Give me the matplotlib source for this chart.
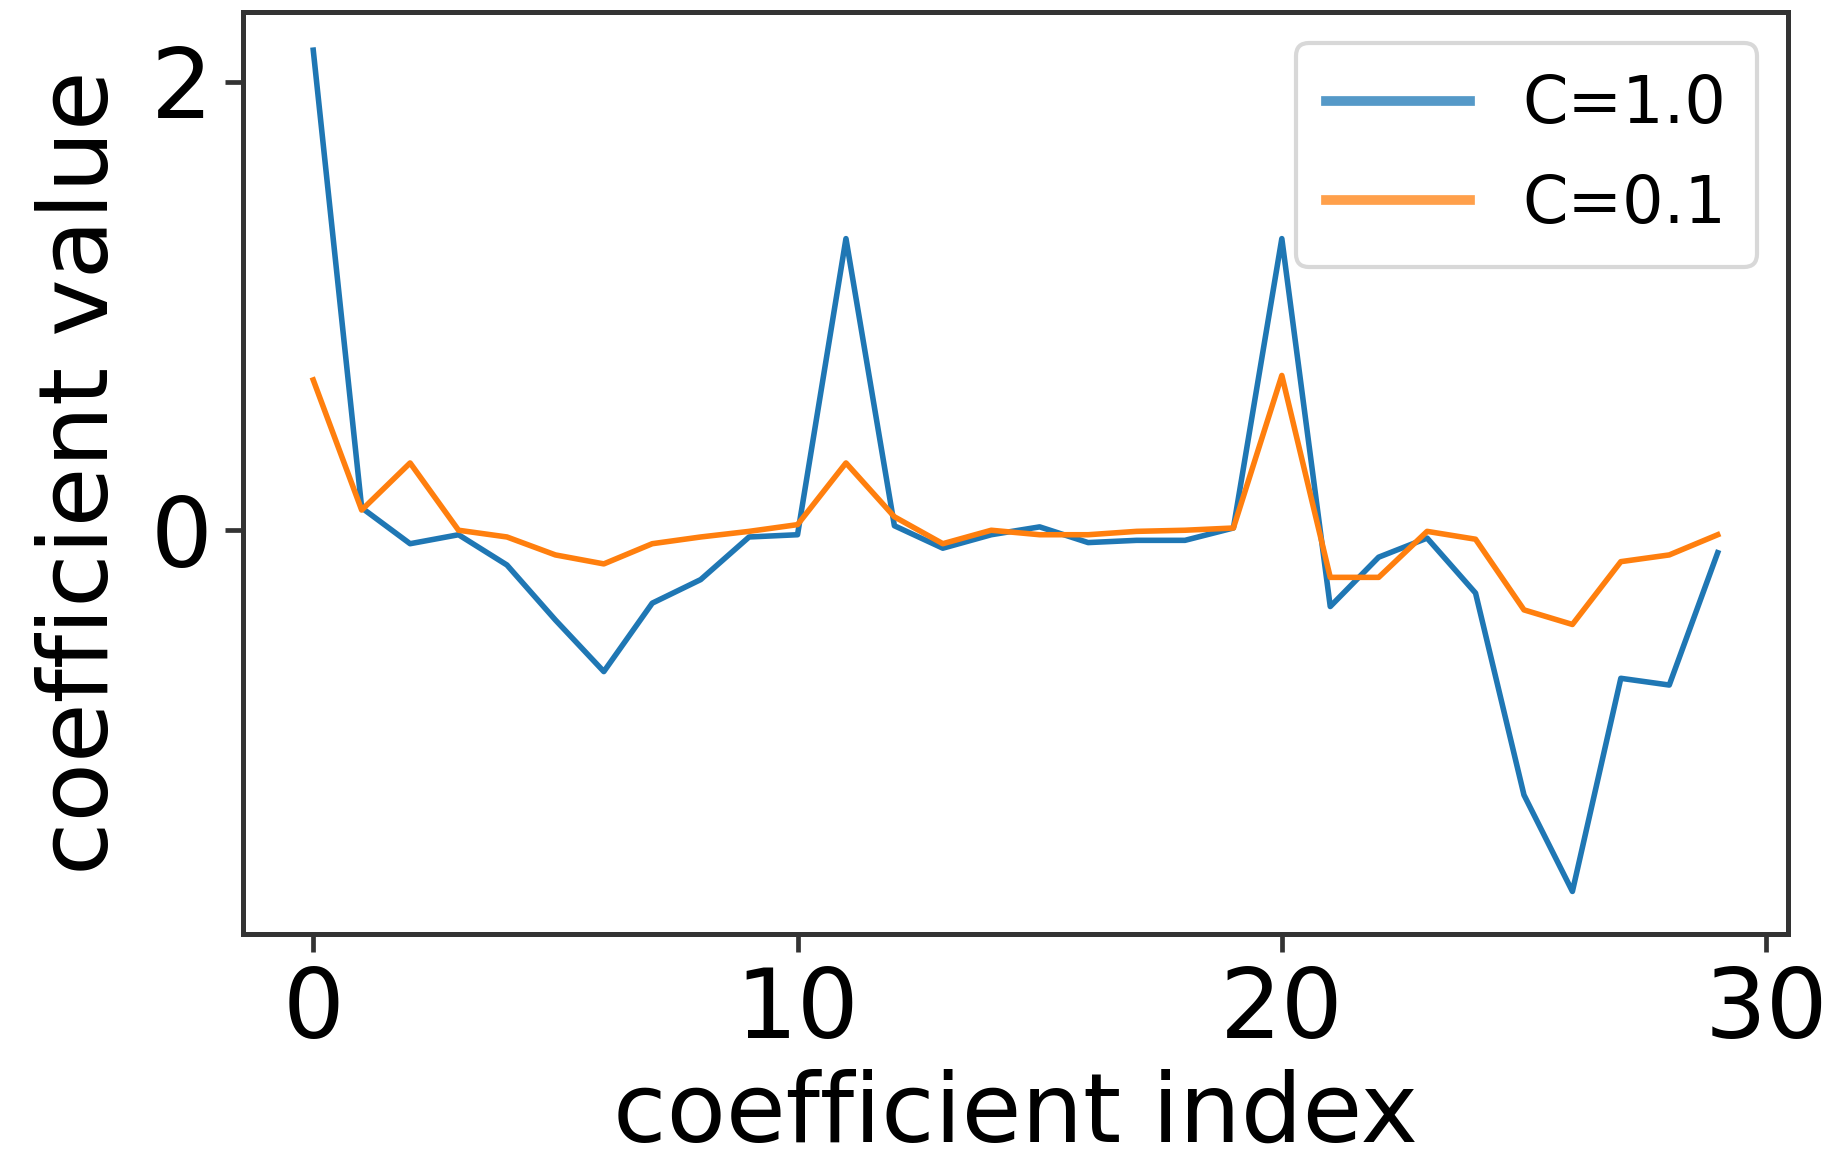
import matplotlib
matplotlib.use("Agg")
import matplotlib.pyplot as plt
import numpy as np

coef_index = list(range(30))
coef_c1 = [2.14, 0.10, -0.06, -0.02, -0.155, -0.40, -0.63, -0.325, -0.22, -0.03,
           -0.02, 1.30, 0.02, -0.08, -0.02, 0.015, -0.055, -0.045, -0.045, 0.01,
           1.30, -0.34, -0.12, -0.035, -0.28, -1.18, -1.61, -0.66, -0.69, -0.10]
coef_c01 = [0.67, 0.09, 0.30, 0.0, -0.03, -0.11, -0.15, -0.06, -0.03, -0.005,
            0.025, 0.30, 0.06, -0.06, 0.0, -0.02, -0.02, -0.005, 0.0, 0.01,
            0.69, -0.21, -0.21, -0.005, -0.04, -0.355, -0.42, -0.14, -0.11, -0.02]
series_labels = ["C=1.0", "C=0.1"]
xtick_values = [0, 10, 20, 30]
ytick_values = [0, 2]

plt.rcParams['font.family'] = ['DejaVu Sans']

fig = plt.figure(figsize=(18.3, 11.57), dpi=100)
ax = fig.add_axes([0.1328, 0.1927, 0.8442, 0.7969])

ax.plot(coef_index, coef_c1, color='#1f77b4', lw=4, label=series_labels[0])
ax.plot(coef_index, coef_c01, color='#ff7f0e', lw=4, label=series_labels[1])

ax.set_xticks(xtick_values)
ax.set_yticks(ytick_values)
ax.set_ylim(-1.80, 2.31)

for s in ax.spines.values():
    s.set_linewidth(3.6)
    s.set_color('#333333')
ax.tick_params(axis='both', length=13, width=3.4, color='#333333',
               labelsize=70, pad=9)

ax.set_xlabel("coefficient index", fontsize=70, labelpad=8)
ax.set_ylabel("coefficient value", fontsize=70, labelpad=16)

leg = ax.legend(loc='upper right', fontsize=47, handlelength=2.2,
                handletextpad=0.81, borderpad=0.46, labelspacing=0.55,
                borderaxespad=0.48)
leg.get_frame().set_linewidth(3)
leg.get_frame().set_edgecolor('#cfcfcf')
lines = leg.get_lines()
lines[0].set_color('#5599c8')
lines[1].set_color('#ffa04b')
for ln in lines:
    ln.set_linewidth(7)

fig.savefig("out.png", dpi=100)
